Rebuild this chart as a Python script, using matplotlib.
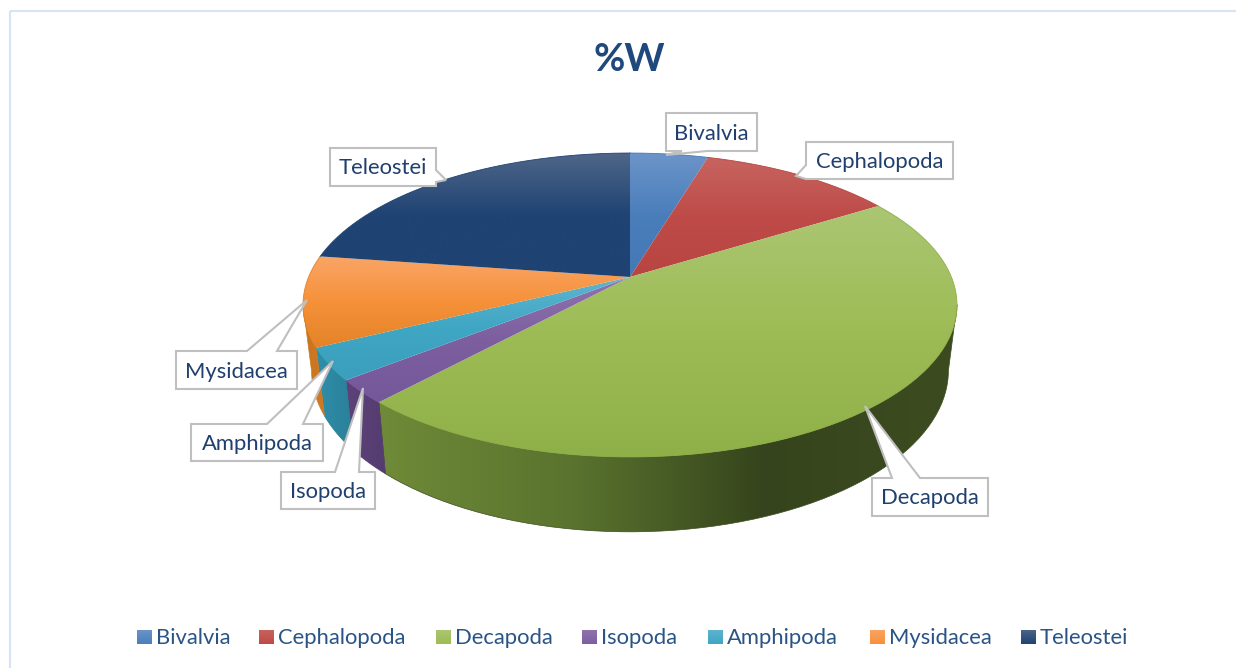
import matplotlib
matplotlib.use('Agg')
import matplotlib.pyplot as plt
from matplotlib.colors import to_rgb
from matplotlib.patches import PathPatch, Polygon, Rectangle
from matplotlib.path import Path
import numpy as np

categories = ['Bivalvia', 'Cephalopoda', 'Decapoda', 'Isopoda', 'Amphipoda', 'Mysidacea', 'Teleostei']
values = [4.6, 11.5, 45.7, 2.5, 3.4, 9.6, 22.7]

# top surface: light at the top of each slice, base halfway, dark at the bottom
light = ['#6c94c9', '#c7645f', '#abc673', '#8f74ad', '#5fb5cf', '#f9a566', '#4f6688']
base = ['#4a7ebb', '#be4b48', '#9ebc55', '#7d5fa0', '#3fa6c4', '#f6913a', '#1f4373']
dark = ['#4579b5', '#b84542', '#8fb049', '#75589a', '#3b9fbd', '#e38327', '#1f4373']
# side walls, left to right
walls = [['#2f4f75'], ['#77302d'], ['#6f8a38', '#5a732e', '#35441c', '#3d4c20'],
         ['#5c4278', '#553c70'], ['#2f8fab', '#2a7f98'], ['#c8731f', '#d07a22'], ['#14294a']]

legend_x = [137, 259, 436, 582, 708, 870, 1021]

# callout boxes as (left, top, right, bottom), with the pointer tip and its base
boxes = [(666, 113, 757, 151), (806, 142, 953, 179), (872, 478, 988, 516), (281, 472, 375, 509),
         (191, 424, 323, 461), (176, 351, 297, 389), (330, 148, 436, 186)]
pointers = [[(707, 151), (666, 155), (682, 151)],
            [(806, 179), (796, 176), (806, 165)],
            [(892, 478), (865, 406), (920, 478)],
            [(335, 472), (363, 388), (359, 472)],
            [(267, 424), (333, 361), (303, 424)],
            [(247, 351), (307, 300), (277, 351)],
            [(436, 170), (446, 180), (436, 182)]]

CX, CY = 630, 277
B, A, K = 321.4, 146.8, 0.1842
# lower rim of the pie
B2, A2, CY2 = 313, 156, 340.6
W, H = 1236, 668


def project(theta, b=B, a=A, cy=CY):
    # theta is clockwise from the top of the pie, the tilt gives the perspective
    u, v = np.sin(theta), np.cos(theta)
    w = 1 + K * v
    return CX + b * u / w, cy - a * v / w


def gradient_fill(ax, verts, colors, extent, horizontal=False):
    # colours run along the extent, clipped to the slice outline
    rgb = np.array([to_rgb(c) for c in colors])
    t = np.linspace(0, 1, 128)
    pos = np.linspace(0, 1, len(colors))
    ramp = np.stack([np.interp(t, pos, rgb[:, i]) for i in range(3)], axis=-1)
    img = ramp[np.newaxis, :, :] if horizontal else ramp[:, np.newaxis, :]
    im = ax.imshow(img, extent=extent, aspect='auto', interpolation='bilinear', zorder=2)
    patch = PathPatch(Path(verts, closed=False), transform=ax.transData)
    im.set_clip_path(patch)
    return im


fig = plt.figure(figsize=(W / 100, H / 100), dpi=100)
ax = fig.add_axes([0, 0, 1, 1])
ax.axis('off')

ax.add_patch(Rectangle((9.5, 10.5), 1400, 800, fill=False, ec='#d9e4f2', lw=1.6, zorder=1))

edges = np.radians(np.concatenate([[0], np.cumsum(values)]) * 3.6)
# the walls only show between the two points where the rim turns back
vis_from = np.arccos(-K)
vis_to = 2 * np.pi - vis_from

for i in range(len(values)):
    start, stop = max(edges[i], vis_from), min(edges[i + 1], vis_to)
    if stop <= start:
        continue
    th = np.linspace(start, stop, 120)
    xt, yt = project(th)
    xb, yb = project(th, B2, A2, CY2)
    verts = np.column_stack([np.r_[xt, xb[::-1], xt[0]], np.r_[yt, yb[::-1], yt[0]]])
    x0, x1 = verts[:, 0].min(), verts[:, 0].max()
    colors = walls[i] if len(walls[i]) > 1 else walls[i] * 2
    gradient_fill(ax, verts, colors, (x0, x1, 560, 100), horizontal=True)
    ax.plot(verts[:, 0], verts[:, 1], color=colors[-1], lw=0.5, zorder=2)

for i in range(len(values)):
    th = np.linspace(edges[i], edges[i + 1], 160)
    xt, yt = project(th)
    verts = np.column_stack([np.r_[CX, xt, CX], np.r_[CY, yt, CY]])
    y0, y1 = verts[:, 1].min(), verts[:, 1].max()
    gradient_fill(ax, verts, [light[i], base[i], dark[i]], (250, 1000, y1, y0))
    ax.plot(xt, yt, color=dark[i], lw=0.6, zorder=3)

for name, box, ptr in zip(categories, boxes, pointers):
    l, t, r, b = box
    # walk the box and splice the pointer in on the side it leaves from
    if ptr[0][1] == ptr[2][1] and ptr[0][1] == t:
        outline = [(l, t), ptr[0], ptr[1], ptr[2], (r, t), (r, b), (l, b)]
    elif ptr[0][1] == ptr[2][1] and ptr[0][1] == b:
        outline = [(l, t), (r, t), (r, b), ptr[0], ptr[1], ptr[2], (l, b)]
    elif ptr[0][0] == ptr[2][0] and ptr[0][0] == r:
        outline = [(l, t), (r, t), ptr[0], ptr[1], ptr[2], (r, b), (l, b)]
    else:
        outline = [(l, t), (r, t), (r, b), (l, b), ptr[0], ptr[1], ptr[2]]
    ax.add_patch(Polygon(outline, closed=True, fc='white', ec='#bfbfbf', lw=1.5, zorder=5, joinstyle='miter'))
    ax.text((l + r) / 2, (t + b) / 2 + 1.5, name, ha='center', va='center', fontsize=15.8,
            family='Lato', color='#1f3f6e', zorder=6)

ax.text(629, 60, '%W', ha='center', va='center', fontsize=27.5, fontweight='bold',
        family='Lato', color='#1f497d', zorder=6)

for i, name in enumerate(categories):
    x = legend_x[i]
    gradient_fill(ax, [(x, 630), (x + 14.5, 630), (x + 14.5, 644.5), (x, 644.5), (x, 630)],
                  [light[i], base[i]], (x, x + 14.5, 644.5, 630))
    ax.text(x + 19, 638, name, ha='left', va='center', fontsize=15.8, family='Lato', color='#2a5486')

ax.set_xlim(0, W)
ax.set_ylim(H, 0)
fig.savefig('out.png', dpi=100, facecolor='white')
